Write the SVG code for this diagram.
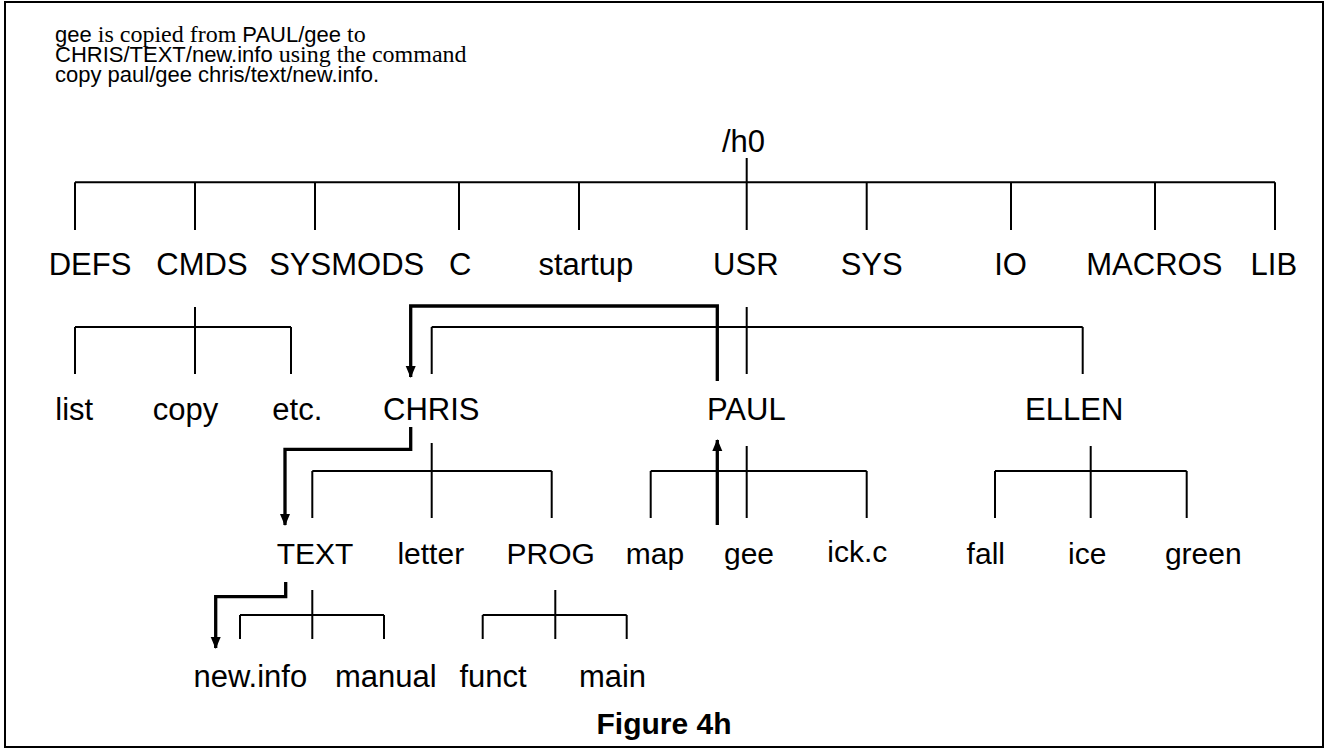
<svg xmlns="http://www.w3.org/2000/svg" width="1327" height="750" viewBox="0 0 1327 750">
<style>
.t{font-family:"Liberation Sans",Arial,sans-serif;font-size:31px;fill:#000;text-anchor:middle}
.t3{font-size:30px}
.h{font-family:"Liberation Sans",Arial,sans-serif;font-size:22px;fill:#000}
.s{font-family:"Liberation Serif","Times New Roman",serif;font-size:24px}
.ln{fill:none;stroke:#000;stroke-width:2}
.ar{fill:none;stroke:#000;stroke-width:3.3;marker-end:url(#ah)}
.fig{font-family:"Liberation Sans",Arial,sans-serif;font-size:30px;font-weight:bold;text-anchor:middle}
</style>
<defs>
<marker id="ah" markerUnits="userSpaceOnUse" markerWidth="14" markerHeight="12" refX="11" refY="5" orient="auto">
<path d="M0,0 L12,5 L0,10 Z" fill="#000"/>
</marker>
</defs>
<rect x="0" y="0" width="1327" height="750" fill="#fff"/>
<rect x="5" y="2" width="1318" height="745" fill="none" stroke="#000" stroke-width="2"/>
<g id="caption">
<text class="h" x="55" y="42">gee<tspan class="s"> is copied from </tspan>PAUL/gee<tspan class="s"> to</tspan></text>
<text class="h" x="55" y="62">CHRIS/TEXT/new.info<tspan class="s"> using the command</tspan></text>
<text class="h" x="55" y="82">copy paul/gee chris/text/new.info.</text>
</g>
<g id="connectors">
<path class="ln" d="M746.7,158 V230 M75,182.3 H1275 M75,182.3 V230 M195,182.3 V230 M315,182.3 V230 M459,182.3 V230 M579,182.3 V230 M866.7,182.3 V230 M1011,182.3 V230 M1155,182.3 V230 M1275,182.3 V230"/>
<path class="ln" d="M195,307 V374 M75,327 H291 M75,327 V374 M291,327 V374"/>
<path class="ln" d="M746.7,307 V374 M431.7,327 H1082.7 M431.7,327 V374 M1082.7,327 V374"/>
<path class="ln" d="M431.7,443 V518 M312.3,471 H551.7 M312.3,471 V518 M551.7,471 V518"/>
<path class="ln" d="M746.7,446 V518 M650.7,471 H866.7 M650.7,471 V518 M866.7,471 V518"/>
<path class="ln" d="M1090.7,446 V518 M995,471 H1186.7 M995,471 V518 M1186.7,471 V518"/>
<path class="ln" d="M312.3,590 V639 M240,615 H384 M240,615 V639 M384,615 V639"/>
<path class="ln" d="M555.3,590 V639 M482.7,615 H626.7 M482.7,615 V639 M626.7,615 V639"/>
<path class="ar" d="M717.3,525 V440"/>
<path class="ar" d="M717.3,381 V306 H410.7 V377"/>
<path class="ar" d="M410.7,427 V449.3 H285 V525"/>
<path class="ar" d="M285.7,582 V596.7 H215.7 V648"/>
</g>
<g id="n-h0"><text class="t" x="743.5" y="152">/h0</text></g>
<g id="n-defs"><text class="t" x="90" y="275">DEFS</text></g>
<g id="n-cmds"><text class="t" x="202" y="275">CMDS</text></g>
<g id="n-sysmods"><text class="t" x="346.7" y="275">SYSMODS</text></g>
<g id="n-c"><text class="t" x="460.3" y="275">C</text></g>
<g id="n-startup"><text class="t" x="585.8" y="275">startup</text></g>
<g id="n-usr"><text class="t" x="745.8" y="275">USR</text></g>
<g id="n-sys"><text class="t" x="871.7" y="275">SYS</text></g>
<g id="n-io"><text class="t" x="1010.5" y="275">IO</text></g>
<g id="n-macros"><text class="t" x="1154.3" y="275">MACROS</text></g>
<g id="n-lib"><text class="t" x="1273.8" y="275">LIB</text></g>
<g id="n-list"><text class="t" x="74.2" y="420">list</text></g>
<g id="n-copy"><text class="t" x="185.5" y="420">copy</text></g>
<g id="n-etc"><text class="t" x="297.3" y="420">etc.</text></g>
<g id="n-chris"><text class="t" x="431.3" y="420">CHRIS</text></g>
<g id="n-paul"><text class="t" x="746.3" y="420">PAUL</text></g>
<g id="n-ellen"><text class="t" x="1074.2" y="420">ELLEN</text></g>
<g id="n-text"><text class="t t3" x="315" y="564">TEXT</text></g>
<g id="n-letter"><text class="t t3" x="430.8" y="564">letter</text></g>
<g id="n-prog"><text class="t t3" x="550.8" y="564">PROG</text></g>
<g id="n-map"><text class="t t3" x="655" y="564">map</text></g>
<g id="n-gee"><text class="t t3" x="749" y="564">gee</text></g>
<g id="n-ickc"><text class="t t3" x="857.3" y="562">ick.c</text></g>
<g id="n-fall"><text class="t t3" x="985.8" y="564">fall</text></g>
<g id="n-ice"><text class="t t3" x="1087.3" y="564">ice</text></g>
<g id="n-green"><text class="t t3" x="1203.3" y="564">green</text></g>
<g id="n-newinfo"><text class="t" x="250.3" y="687">new.info</text></g>
<g id="n-manual"><text class="t" x="385.8" y="687">manual</text></g>
<g id="n-funct"><text class="t" x="493" y="687">funct</text></g>
<g id="n-main"><text class="t" x="612.5" y="687">main</text></g>
<g id="figure"><text class="fig" x="664" y="734">Figure 4h</text></g>
</svg>
